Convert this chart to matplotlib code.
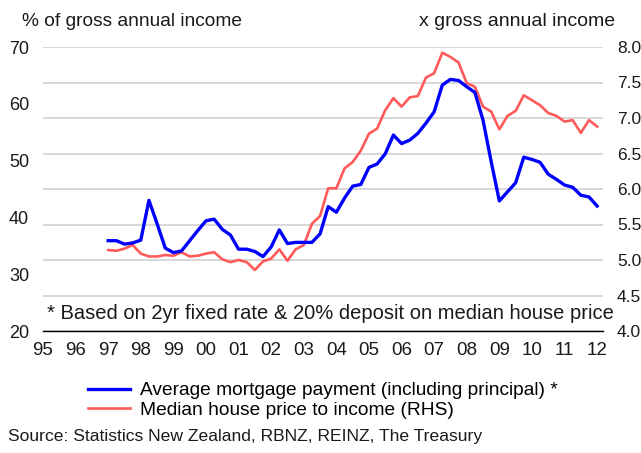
import matplotlib
matplotlib.use("Agg")
import matplotlib.pyplot as plt
from matplotlib.lines import Line2D

plt.rcParams['font.family'] = ['Liberation Sans', 'DejaVu Sans']

# quarterly series, 1997Q1 .. 2012Q1
start_year = 1997
mortgage_pct = [
    35.9, 35.9, 35.3, 35.5, 36.0, 43.0, 38.9, 34.6, 33.8, 34.1,
    35.9, 37.7, 39.4, 39.7, 37.9, 36.9, 34.4, 34.4, 34.0, 33.1,
    34.8, 37.8, 35.4, 35.6, 35.6, 35.6, 37.1, 41.9, 40.9, 43.4,
    45.5, 45.8, 48.8, 49.4, 51.2, 54.5, 53.0, 53.6, 54.8, 56.6,
    58.6, 63.3, 64.3, 64.1, 63.0, 62.0, 57.1, 49.8, 42.9, 44.5,
    46.1, 50.6, 50.2, 49.7, 47.6, 46.7, 45.7, 45.3, 43.9, 43.6,
    42.0,
]
price_to_income = [
    5.14, 5.13, 5.16, 5.21, 5.09, 5.05, 5.05, 5.07, 5.06, 5.11,
    5.05, 5.06, 5.09, 5.11, 5.01, 4.97, 5.00, 4.97, 4.86, 4.98,
    5.02, 5.15, 4.99, 5.15, 5.21, 5.51, 5.62, 6.01, 6.01, 6.29,
    6.38, 6.54, 6.78, 6.85, 7.11, 7.28, 7.16, 7.29, 7.31, 7.57,
    7.63, 7.92, 7.86, 7.78, 7.49, 7.44, 7.16, 7.09, 6.84, 7.03,
    7.10, 7.32, 7.25, 7.18, 7.07, 7.03, 6.95, 6.97, 6.79, 6.97,
    6.88,
]
year_ticks = list(range(1995, 2013))
year_labels = ['%02d' % (y % 100) for y in year_ticks]
left_ticks = [20, 30, 40, 50, 60, 70]
right_ticks = [4.0, 4.5, 5.0, 5.5, 6.0, 6.5, 7.0, 7.5, 8.0]

BLUE = '#0000FF'
RED = '#FF5A5A'
TXT = '#1a1a1a'

x = [start_year + i / 4 for i in range(len(mortgage_pct))]

fig = plt.figure(figsize=(6.41, 4.53), dpi=100)
ax = fig.add_axes([43 / 641, 1 - 331 / 453, 560 / 641, 284 / 453])
ax2 = ax.twinx()
# left axis (blue) drawn above the right axis grid and red line
ax.set_zorder(ax2.get_zorder() + 1)
ax.patch.set_visible(False)

ax2.plot(x, price_to_income, color=RED, lw=1.9)
ax.plot(x, mortgage_pct, color=BLUE, lw=2.4)

ax.set_xlim(1995, 2012.18)
ax.set_ylim(20, 70)
ax2.set_ylim(4, 8)
ax.set_xticks(year_ticks)
ax.set_xticklabels(year_labels)
ax.set_yticks(left_ticks)
ax2.set_yticks(right_ticks)
ax2.set_yticklabels(['%.1f' % t for t in right_ticks])

ax2.grid(axis='y', color='#D4D4D4', lw=1.3)
ax2.set_axisbelow(True)

for a in (ax, ax2):
    for s in ('top', 'left', 'right', 'bottom'):
        a.spines[s].set_visible(False)
    a.tick_params(length=0, colors=TXT)
ax.spines['bottom'].set_visible(True)
ax.spines['bottom'].set_color('black')
ax.spines['bottom'].set_linewidth(1.0)
ax.tick_params(axis='y', pad=10, labelsize=13)
ax.tick_params(axis='x', pad=8, labelsize=13.5)
ax2.tick_params(axis='y', pad=10, labelsize=12.5)

fig.text(22 / 641, 1 - 21 / 453, '% of gross annual income', fontsize=13.8,
         va='center', ha='left', color=TXT)
fig.text(615 / 641, 1 - 21 / 453, 'x gross annual income', fontsize=14,
         va='center', ha='right', color=TXT)
ax.text(0.007, 0.063, '* Based on 2yr fixed rate & 20% deposit on median house price',
        transform=ax.transAxes, fontsize=14.5, va='center', ha='left',
        color=TXT)

handles = [Line2D([], [], color=BLUE, lw=2.4),
           Line2D([], [], color=RED, lw=1.9)]
fig.legend(handles,
           ['Average mortgage payment (including principal) *',
            'Median house price to income (RHS)'],
           loc='upper left', bbox_to_anchor=(88 / 641, 1 - 382 / 453),
           frameon=False, fontsize=13.8, handlelength=2.2,
           handletextpad=0.52, labelspacing=0.12, borderpad=0,
           borderaxespad=0)
fig.text(8 / 641, 1 - 437 / 453,
         'Source: Statistics New Zealand, RBNZ, REINZ, The Treasury',
         fontsize=12.6, va='center', ha='left', color=TXT)

fig.savefig('out.png', dpi=100)
